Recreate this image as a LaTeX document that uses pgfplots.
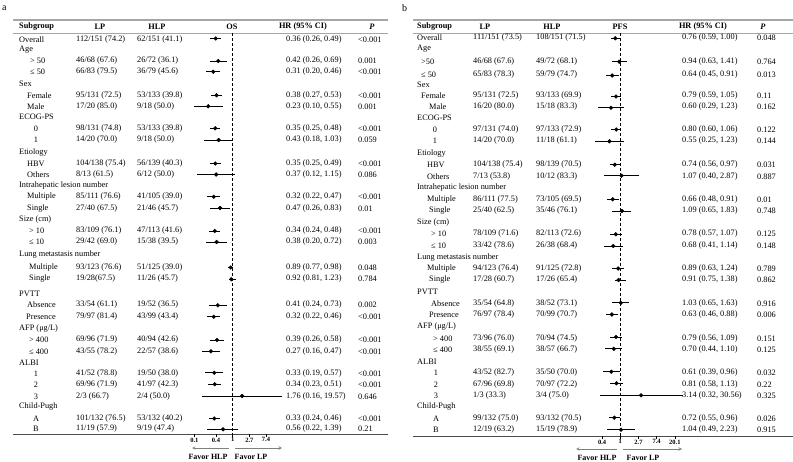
\documentclass[border=0pt]{standalone}
\usepackage{pgfplots}
\pgfplotsset{compat=1.18}
\usepackage{pgfplotstable}
\usepackage{fontspec}
\setmainfont{Liberation Serif}

\pgfplotstableread{
y hr lo hi
38.5 0.36 0.26 0.49
61.0 0.42 0.26 0.69
71.7 0.31 0.20 0.46
95.3 0.38 0.27 0.53
106.3 0.23 0.10 0.55
128.3 0.35 0.25 0.48
140.0 0.43 0.18 1.03
163.5 0.35 0.25 0.49
174.5 0.37 0.12 1.15
196.7 0.32 0.22 0.47
208.0 0.47 0.26 0.83
231.0 0.34 0.24 0.48
242.0 0.38 0.20 0.72
267.5 0.89 0.77 0.98
279.3 0.92 0.81 1.23
305.3 0.41 0.24 0.73
316.7 0.32 0.22 0.46
340.0 0.39 0.26 0.58
351.3 0.27 0.16 0.47
372.8 0.33 0.19 0.57
384.3 0.34 0.23 0.51
396.0 1.76 0.16 19.57
418.5 0.33 0.24 0.46
429.3 0.56 0.22 1.39
}\osdata

\pgfplotstableread{
y hr lo hi
38.3 0.76 0.59 1.00
61.7 0.94 0.63 1.41
75.5 0.64 0.45 0.91
96.5 0.79 0.59 1.05
107.7 0.60 0.29 1.23
129.5 0.80 0.60 1.06
141.3 0.55 0.25 1.23
164.7 0.74 0.56 0.97
175.7 1.07 0.40 2.87
199.3 0.66 0.48 0.91
211.0 1.09 0.65 1.83
234.3 0.78 0.57 1.07
246.0 0.68 0.41 1.14
268.5 0.89 0.63 1.24
280.0 0.91 0.75 1.38
302.8 1.03 0.65 1.63
314.5 0.63 0.46 0.88
337.0 0.79 0.56 1.09
348.8 0.70 0.44 1.10
371.7 0.61 0.39 0.96
383.3 0.81 0.58 1.13
395.3 3.14 0.32 30.56
417.7 0.72 0.55 0.96
429.7 1.04 0.49 2.23
}\pfsdata

\tikzset{
  t/.style={anchor=west, inner sep=0pt, font=\fontsize{8.3}{9}\selectfont},
  tc/.style={anchor=center, inner sep=0pt, font=\fontsize{8.3}{9}\selectfont},
  h/.style={anchor=center, inner sep=0pt, font=\bfseries\fontsize{8.3}{9}\selectfont},
}
\newcommand\ra[7]{\node[t] at (#2,#1) {#3}; \node[t] at (76,#1) {#4}; \node[t] at (137,#1) {#5}; \node[t] at (286,#1) {#6}; \node[t] at (358,#1) {#7};}
\newcommand\rac[7]{\node[tc] at (#2,#1) {#3}; \node[t] at (76,#1) {#4}; \node[t] at (137,#1) {#5}; \node[t] at (286,#1) {#6}; \node[t] at (358,#1) {#7};}
\newcommand\rb[7]{\node[t] at (#2,#1) {#3}; \node[t] at (473,#1) {#4}; \node[t] at (536,#1) {#5}; \node[t] at (682,#1) {#6}; \node[t] at (757,#1) {#7};}
\newcommand\rbc[7]{\node[tc] at (#2,#1) {#3}; \node[t] at (473,#1) {#4}; \node[t] at (536,#1) {#5}; \node[t] at (682,#1) {#6}; \node[t] at (757,#1) {#7};}
\newcommand\cat[2]{\node[t] at (#1) {#2};}

\begin{document}
\begin{tikzpicture}
\begin{scope}[x=1pt,y=-1pt]
\useasboundingbox (0,0) rectangle (793,462);

% ---------------- Panel a ----------------
\node[anchor=west, inner sep=0pt, font=\fontsize{10}{10}\selectfont] at (2,8) {a};
\draw[line width=1.6pt, gray!70] (13,20) -- (388,20);
\draw[line width=0.8pt, gray!70] (13,33) -- (388,33);
\draw[line width=1pt, gray!60!black] (13,434) -- (388,434);
\node[h, anchor=west] at (19,27) {Subgroup};
\node[h] at (100,27) {LP};
\node[h] at (157,27) {HLP};
\node[h] at (232,27) {OS};
\node[h] at (303,27) {HR (95\% CI)};
\node[h] at (372,27) {\textit{P}};

\ra{40}{19}{Overall}{112/151 (74.2)}{62/151 (41.1)}{0.36 (0.26, 0.49)}{<0.001}
\cat{19,50}{Age}
\ra{61}{30}{> 50}{46/68 (67.6)}{26/72 (36.1)}{0.42 (0.26, 0.69)}{0.001}
\ra{72}{30}{≤ 50}{66/83 (79.5)}{36/79 (45.6)}{0.31 (0.20, 0.46)}{<0.001}
\cat{19,84}{Sex}
\ra{96}{27}{Female}{95/131 (72.5)}{53/133 (39.8)}{0.38 (0.27, 0.53)}{<0.001}
\ra{107}{27}{Male}{17/20 (85.0)}{9/18 (50.0)}{0.23 (0.10, 0.55)}{0.001}
\cat{19,117}{ECOG-PS}
\rac{129}{36}{0}{98/131 (74.8)}{53/133 (39.8)}{0.35 (0.25, 0.48)}{<0.001}
\rac{140}{36}{1}{14/20 (70.0)}{9/18 (50.0)}{0.43 (0.18, 1.03)}{0.059}
\cat{19,153}{Etiology}
\ra{164}{27}{HBV}{104/138 (75.4)}{56/139 (40.3)}{0.35 (0.25, 0.49)}{<0.001}
\ra{175}{27}{Others}{8/13 (61.5)}{6/12 (50.0)}{0.37 (0.12, 1.15)}{0.086}
\cat{19,186}{Intrahepatic lesion number}
\ra{197}{27}{Multiple}{85/111 (76.6)}{41/105 (39.0)}{0.32 (0.22, 0.47)}{<0.001}
\ra{209}{27}{Single}{27/40 (67.5)}{21/46 (45.7)}{0.47 (0.26, 0.83)}{0.01}
\cat{19,220}{Size (cm)}
\ra{231}{29}{> 10}{83/109 (76.1)}{47/113 (41.6)}{0.34 (0.24, 0.48)}{<0.001}
\ra{242}{29}{≤ 10}{29/42 (69.0)}{15/38 (39.5)}{0.38 (0.20, 0.72)}{0.003}
\cat{19,255}{Lung metastasis number}
\ra{268}{29}{Multiple}{93/123 (76.6)}{51/125 (39.0)}{0.89 (0.77, 0.98)}{0.048}
\ra{279}{29}{Single}{19/28(67.5)}{11/26 (45.7)}{0.92 (0.81, 1.23)}{0.784}
\cat{19,294}{PVTT}
\ra{305}{27}{Absence}{33/54 (61.1)}{19/52 (36.5)}{0.41 (0.24, 0.73)}{0.002}
\ra{317}{26}{Presence}{79/97 (81.4)}{43/99 (43.4)}{0.32 (0.22, 0.46)}{<0.001}
\cat{19,329}{AFP (μg/L)}
\ra{340}{29}{> 400}{69/96 (71.9)}{40/94 (42.6)}{0.39 (0.26, 0.58)}{<0.001}
\ra{352}{29}{≤ 400}{43/55 (78.2)}{22/57 (38.6)}{0.27 (0.16, 0.47)}{<0.001}
\cat{19,363}{ALBI}
\rac{374}{36}{1}{41/52 (78.8)}{19/50 (38.0)}{0.33 (0.19, 0.57)}{<0.001}
\rac{385}{36}{2}{69/96 (71.9)}{41/97 (42.3)}{0.34 (0.23, 0.51)}{<0.001}
\rac{397}{36}{3}{2/3 (66.7)}{2/4 (50.0)}{1.76 (0.16, 19.57)}{0.646}
\cat{19,407}{Child-Pugh}
\rac{419}{36}{A}{101/132 (76.5)}{53/132 (40.2)}{0.33 (0.24, 0.46)}{<0.001}
\rac{429}{36}{B}{11/19 (57.9)}{9/19 (47.4)}{0.56 (0.22, 1.39)}{0.21}

\draw[gray, line width=0.6pt, -stealth] (229,448) -- (192,448);
\draw[gray, line width=0.6pt, -stealth] (235,448) -- (282,448);
\node[anchor=center, inner sep=0pt, font=\bfseries\fontsize{8}{9}\selectfont] at (208,457) {Favor HLP};
\node[anchor=center, inner sep=0pt, font=\bfseries\fontsize{8}{9}\selectfont] at (251,457) {Favor LP};

% ---------------- Panel b ----------------
\node[anchor=west, inner sep=0pt, font=\fontsize{10}{10}\selectfont] at (402,8) {b};
\draw[line width=1.6pt, gray!70] (413,20) -- (793,20);
\draw[line width=0.8pt, gray!70] (413,33) -- (793,33);
\draw[line width=1pt, gray!60!black] (413,436) -- (793,436);
\node[h, anchor=west] at (417,27) {Subgroup};
\node[h] at (485,27) {LP};
\node[h] at (552,27) {HLP};
\node[h] at (620,27) {PFS};
\node[h] at (703,27) {HR (95\% CI)};
\node[h] at (763,27) {\textit{P}};

\rb{38}{417}{Overall}{111/151 (73.5)}{108/151 (71.5)}{0.76 (0.59, 1.00)}{0.048}
\cat{417,49}{Age}
\rb{62}{421}{>50}{46/68 (67.6)}{49/72 (68.1)}{0.94 (0.63, 1.41)}{0.764}
\rb{75}{421}{≤ 50}{65/83 (78.3)}{59/79 (74.7)}{0.64 (0.45, 0.91)}{0.013}
\cat{417,85}{Sex}
\rb{96}{421}{Female}{95/131 (72.5)}{93/133 (69.9)}{0.79 (0.59, 1.05)}{0.11}
\rb{107}{429}{Male}{16/20 (80.0)}{15/18 (83.3)}{0.60 (0.29, 1.23)}{0.162}
\cat{417,118}{ECOG-PS}
\rbc{130}{435}{0}{97/131 (74.0)}{97/133 (72.9)}{0.80 (0.60, 1.06)}{0.122}
\rbc{141}{435}{1}{14/20 (70.0)}{11/18 (61.1)}{0.55 (0.25, 1.23)}{0.144}
\cat{417,154}{Etiology}
\rb{165}{427}{HBV}{104/138 (75.4)}{98/139 (70.5)}{0.74 (0.56, 0.97)}{0.031}
\rb{177}{427}{Others}{7/13 (53.8)}{10/12 (83.3)}{1.07 (0.40, 2.87)}{0.887}
\cat{417,188}{Intrahepatic lesion number}
\rb{200}{427}{Multiple}{86/111 (77.5)}{73/105 (69.5)}{0.66 (0.48, 0.91)}{0.01}
\rb{211}{429}{Single}{25/40 (62.5)}{35/46 (76.1)}{1.09 (0.65, 1.83)}{0.748}
\cat{417,223}{Size (cm)}
\rb{234}{431}{> 10}{78/109 (71.6)}{82/113 (72.6)}{0.78 (0.57, 1.07)}{0.125}
\rb{246}{431}{≤ 10}{33/42 (78.6)}{26/38 (68.4)}{0.68 (0.41, 1.14)}{0.148}
\cat{417,258}{Lung metastasis number}
\rb{269}{427}{Multiple}{94/123 (76.4)}{91/125 (72.8)}{0.89 (0.63, 1.24)}{0.789}
\rb{280}{429}{Single}{17/28 (60.7)}{17/26 (65.4)}{0.91 (0.75, 1.38)}{0.862}
\cat{417,292}{PVTT}
\rb{303.5}{431}{Absence}{35/54 (64.8)}{38/52 (73.1)}{1.03 (0.65, 1.63)}{0.916}
\rb{315}{429}{Presence}{76/97 (78.4)}{70/99 (70.7)}{0.63 (0.46, 0.88)}{0.006}
\cat{417,327}{AFP (μg/L)}
\rb{339}{433}{> 400}{73/96 (76.0)}{70/94 (74.5)}{0.79 (0.56, 1.09)}{0.151}
\rb{350}{433}{≤ 400}{38/55 (69.1)}{38/57 (66.7)}{0.70 (0.44, 1.10)}{0.125}
\cat{417,362}{ALBI}
\rbc{373}{436}{1}{43/52 (82.7)}{35/50 (70.0)}{0.61 (0.39, 0.96)}{0.032}
\rbc{385}{436}{2}{67/96 (69.8)}{70/97 (72.2)}{0.81 (0.58, 1.13)}{0.22}
\rbc{396}{436}{3}{1/3 (33.3)}{3/4 (75.0)}{3.14 (0.32, 30.56)}{0.325}
\cat{417,407}{Child-Pugh}
\rbc{419}{436}{A}{99/132 (75.0)}{93/132 (70.5)}{0.72 (0.55, 0.96)}{0.026}
\rbc{430}{436}{B}{12/19 (63.2)}{15/19 (78.9)}{1.04 (0.49, 2.23)}{0.915}

\draw[gray, line width=0.6pt, -stealth] (617,449) -- (576,449);
\draw[gray, line width=0.6pt, -stealth] (623,449) -- (682,449);
\node[anchor=center, inner sep=0pt, font=\bfseries\fontsize{8}{9}\selectfont] at (597,457.5) {Favor HLP};
\node[anchor=center, inner sep=0pt, font=\bfseries\fontsize{8}{9}\selectfont] at (643,457.5) {Favor LP};
\end{scope}

\begin{axis}[
  xmode=log,
  at={(190.65pt,-434pt)}, anchor=south west,
  scale only axis, width=95.65pt, height=401pt,
  xmin=0.08, xmax=25, ymin=33, ymax=434, y dir=reverse,
  axis x line*=bottom, axis y line=none,
  x axis line style={draw=none},
  xtick={0.1,0.36788,1,2.71828,7.38906},
  xticklabels={0.1,0.4,1,2.7,7.4},
  minor xtick={},
  major tick length=3pt, tick align=outside,
  tick style={black, line width=0.5pt},
  xticklabel style={font=\bfseries\fontsize{6.5}{7}\selectfont, inner sep=0.5pt},
  clip=false,
]
\addplot[black, densely dashed, line width=0.6pt] coordinates {(1,33) (1,434)};
\addplot[black, only marks, mark=*, mark size=1.9pt,
  error bars/x dir=both, error bars/x explicit, error bars/error mark=none,
  error bars/error bar style={line width=0.65pt, black, solid}]
  table[x=hr, y=y, x error plus expr=\thisrow{hi}-\thisrow{hr}, x error minus expr=\thisrow{hr}-\thisrow{lo}] {\osdata};
\end{axis}

\begin{axis}[
  xmode=log,
  at={(591.0pt,-436pt)}, anchor=south west,
  scale only axis, width=96.4pt, height=403pt,
  xmin=0.2, xmax=40, ymin=33, ymax=436, y dir=reverse,
  axis x line*=bottom, axis y line=none,
  x axis line style={draw=none},
  xtick={0.36788,1,2.71828,7.38906,20.0855},
  xticklabels={0.4,1,2.7,7.4,20.1},
  minor xtick={},
  major tick length=3pt, tick align=outside,
  tick style={black, line width=0.5pt},
  xticklabel style={font=\bfseries\fontsize{6.5}{7}\selectfont, inner sep=0.5pt},
  clip=false,
]
\addplot[black, densely dashed, line width=0.6pt] coordinates {(1,33) (1,436)};
\addplot[black, only marks, mark=*, mark size=1.9pt,
  error bars/x dir=both, error bars/x explicit, error bars/error mark=none,
  error bars/error bar style={line width=0.65pt, black, solid}]
  table[x=hr, y=y, x error plus expr=\thisrow{hi}-\thisrow{hr}, x error minus expr=\thisrow{hr}-\thisrow{lo}] {\pfsdata};
\end{axis}
\end{tikzpicture}
\end{document}
